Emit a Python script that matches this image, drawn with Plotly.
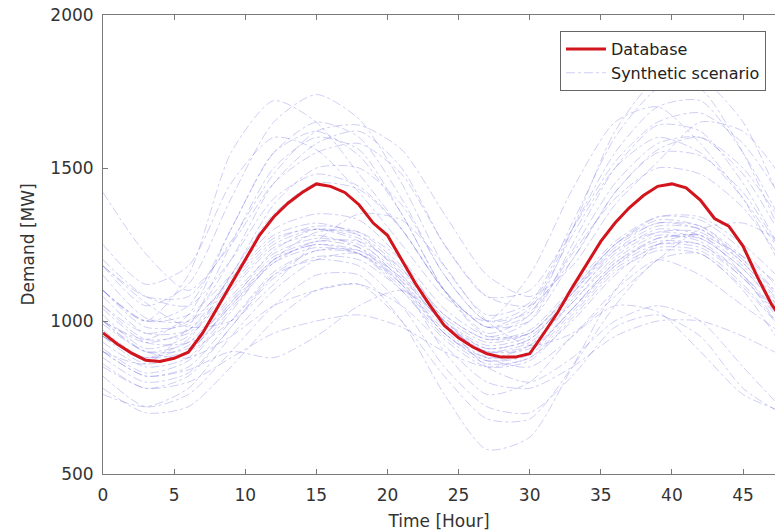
import plotly.graph_objects as go

# =========================
# DATA
# =========================
hours = list(range(0, 49))
database = [961, 925, 895, 872, 868, 878, 898, 960, 1040, 1120,
            1200, 1280, 1340, 1385, 1420, 1448, 1440, 1420, 1380, 1320,
            1280, 1200, 1120, 1050, 985, 945, 915, 893, 882, 882,
            893, 960, 1030, 1110, 1185, 1260, 1320, 1370, 1410, 1440,
            1448, 1435, 1395, 1335, 1310, 1245, 1145, 1055, 990]

# synthetic scenarios, sampled every 3 hours
hours_s = [0, 3, 6, 9, 12, 15, 18, 21, 24, 27, 30, 33, 36, 39, 42, 45, 48]

s01 = [1000, 900, 930, 1080, 1220, 1270, 1250, 1150, 1000, 920, 950, 1080, 1220, 1300, 1280, 1180, 1020]
s02 = [950, 860, 900, 1050, 1200, 1250, 1230, 1130, 980, 900, 930, 1060, 1200, 1280, 1260, 1150, 990]
s03 = [1050, 940, 960, 1110, 1250, 1300, 1270, 1160, 1010, 930, 960, 1100, 1250, 1330, 1310, 1200, 1050]
s04 = [900, 820, 850, 1000, 1160, 1230, 1220, 1120, 970, 880, 900, 1040, 1190, 1260, 1250, 1140, 980]
s05 = [1100, 980, 990, 1140, 1280, 1320, 1280, 1150, 990, 910, 940, 1090, 1240, 1320, 1300, 1190, 1030]
s06 = [880, 800, 830, 980, 1140, 1210, 1200, 1100, 950, 860, 880, 1020, 1170, 1240, 1230, 1120, 960]
s07 = [1020, 910, 950, 1100, 1240, 1280, 1240, 1120, 960, 880, 920, 1070, 1230, 1310, 1300, 1200, 1060]
s08 = [970, 880, 920, 1070, 1210, 1260, 1260, 1170, 1020, 940, 960, 1090, 1230, 1290, 1270, 1170, 1010]
s09 = [930, 850, 880, 1040, 1190, 1260, 1240, 1140, 990, 900, 920, 1060, 1210, 1290, 1290, 1190, 1040]
s10 = [1080, 960, 970, 1120, 1260, 1310, 1290, 1180, 1020, 940, 970, 1110, 1260, 1340, 1330, 1230, 1080]
s11 = [860, 780, 820, 980, 1150, 1230, 1230, 1140, 990, 900, 910, 1040, 1180, 1250, 1240, 1140, 990]
s12 = [990, 900, 910, 1050, 1190, 1240, 1220, 1110, 960, 870, 900, 1040, 1190, 1270, 1270, 1170, 1020]
s13 = [1150, 1010, 1000, 1130, 1270, 1300, 1260, 1130, 960, 870, 890, 1030, 1180, 1270, 1280, 1210, 1100]
s14 = [910, 830, 870, 1030, 1200, 1290, 1290, 1200, 1040, 950, 960, 1100, 1250, 1320, 1310, 1210, 1060]
s15 = [1040, 930, 930, 1060, 1200, 1250, 1220, 1100, 940, 850, 870, 1010, 1160, 1230, 1220, 1110, 960]
s16 = [960, 870, 900, 1060, 1230, 1300, 1280, 1170, 1000, 910, 940, 1090, 1250, 1340, 1340, 1250, 1120]

b01 = [1000, 940, 1020, 1300, 1550, 1650, 1600, 1400, 1150, 1000, 1050, 1300, 1550, 1700, 1720, 1550, 1300]
b02 = [1180, 1050, 1120, 1400, 1650, 1740, 1660, 1450, 1180, 1020, 1060, 1320, 1600, 1760, 1790, 1650, 1350]
b03 = [1100, 1000, 1150, 1550, 1720, 1650, 1480, 1300, 1100, 980, 1040, 1280, 1500, 1600, 1550, 1400, 1200]
b04 = [1420, 1220, 1100, 1250, 1450, 1550, 1580, 1480, 1250, 1080, 1050, 1200, 1420, 1560, 1600, 1500, 1300]
b05 = [1050, 960, 1000, 1200, 1450, 1580, 1620, 1500, 1250, 1080, 1100, 1300, 1520, 1650, 1680, 1580, 1380]
b06 = [900, 860, 980, 1250, 1500, 1600, 1560, 1350, 1100, 950, 1000, 1250, 1500, 1640, 1620, 1450, 1200]
b07 = [1000, 930, 970, 1150, 1380, 1500, 1500, 1380, 1150, 1000, 1030, 1230, 1450, 1580, 1600, 1480, 1250]
b08 = [1200, 1080, 1050, 1200, 1400, 1480, 1440, 1300, 1100, 980, 1000, 1200, 1420, 1550, 1540, 1420, 1200]
b09 = [1100, 1000, 1050, 1300, 1550, 1620, 1540, 1350, 1100, 960, 1020, 1300, 1620, 1790, 1760, 1550, 1250]
b10 = [950, 880, 940, 1150, 1350, 1450, 1430, 1300, 1100, 980, 1020, 1220, 1400, 1500, 1480, 1370, 1180]
b11 = [1250, 1120, 1180, 1450, 1600, 1560, 1420, 1250, 1080, 1000, 1150, 1430, 1650, 1700, 1580, 1400, 1150]
b12 = [1180, 1080, 1080, 1260, 1480, 1620, 1640, 1560, 1350, 1150, 1080, 1180, 1380, 1520, 1650, 1620, 1450]

c01 = [820, 720, 760, 900, 1050, 1150, 1150, 1000, 760, 580, 620, 850, 1100, 1250, 1280, 1150, 950]
c02 = [780, 700, 720, 850, 1000, 1100, 1120, 1000, 820, 680, 680, 850, 1050, 1200, 1220, 1100, 900]
c03 = [850, 780, 800, 880, 960, 1000, 1020, 980, 900, 850, 880, 1000, 1150, 1250, 1250, 1150, 1000]
c04 = [900, 820, 840, 900, 880, 950, 1050, 1100, 1000, 880, 850, 950, 1100, 1200, 1150, 1050, 950]
c05 = [1100, 1000, 1020, 1150, 1300, 1350, 1330, 1200, 1000, 850, 800, 880, 1000, 1050, 1000, 850, 700]
c06 = [950, 880, 900, 1000, 1150, 1200, 1180, 1050, 850, 720, 700, 820, 980, 1020, 950, 780, 690]
c07 = [760, 720, 780, 950, 1100, 1200, 1220, 1120, 900, 760, 800, 950, 1050, 1030, 900, 760, 700]
c08 = [1000, 900, 880, 950, 1050, 1100, 1120, 1050, 920, 800, 780, 850, 950, 1000, 1000, 950, 880]
c09 = [1180, 1060, 980, 1000, 1120, 1260, 1350, 1330, 1180, 1000, 920, 960, 1080, 1200, 1300, 1320, 1250]

scenarios = [s01, s02, s03, s04, s05, s06, s07, s08, s09, s10, s11, s12, s13, s14, s15, s16,
             b01, b02, b03, b04, b05, b06, b07, b08, b09, b10, b11, b12,
             c01, c02, c03, c04, c05, c06, c07, c08, c09]

# =========================
# FIGURE
# =========================
FONT = 'DejaVu Sans'
TXT = '#333333'
fig = go.Figure()

for i, s in enumerate(scenarios):
    fig.add_trace(go.Scatter(
        x=hours_s, y=s, mode='lines',
        line=dict(color='rgba(70,70,215,0.33)', width=0.8, dash='dashdot', shape='spline', smoothing=0.7),
        name='Synthetic scenario', legendgroup='syn', legendrank=2,
        showlegend=(i == 0), hoverinfo='skip'
    ))

fig.add_trace(go.Scatter(
    x=hours, y=database, mode='lines',
    line=dict(color='#d2141c', width=3),
    name='Database', legendrank=1
))

axis_common = dict(
    showgrid=False, zeroline=False, showline=True, linecolor='#7a7a7a', linewidth=1,
    ticks='inside', ticklen=5, tickcolor='#7a7a7a',
    tickfont=dict(family=FONT, size=17, color=TXT),
    automargin=False,
)

fig.update_xaxes(axis_common, range=[0, 47.25], tickvals=list(range(0, 50, 5)),
                 mirror='ticks', ticklabelstandoff=6,
                 title=dict(text='Time [Hour]', font=dict(family=FONT, size=17, color=TXT), standoff=11))
fig.update_yaxes(axis_common, range=[500, 2000], tickvals=[500, 1000, 1500, 2000],
                 ticklabelstandoff=5,
                 title=dict(text='Demand [MW]', font=dict(family=FONT, size=17, color=TXT), standoff=11))

fig.update_layout(
    width=775, height=531,
    margin=dict(l=103, r=0, t=15, b=57),
    plot_bgcolor='white', paper_bgcolor='white',
    font=dict(family=FONT, color=TXT),
    legend=dict(
        x=0.9866, y=0.965, xanchor='right', yanchor='top',
        bgcolor='white', bordercolor='#666666', borderwidth=1,
        font=dict(family=FONT, size=16, color='#222222'),
        itemwidth=40, tracegroupgap=0
    ),
)

# drop the default page margin so the figure sits at the window's corner
fig.write_html("out.html", config={'displayModeBar': False},
               post_script="document.body.style.margin='0px';")
